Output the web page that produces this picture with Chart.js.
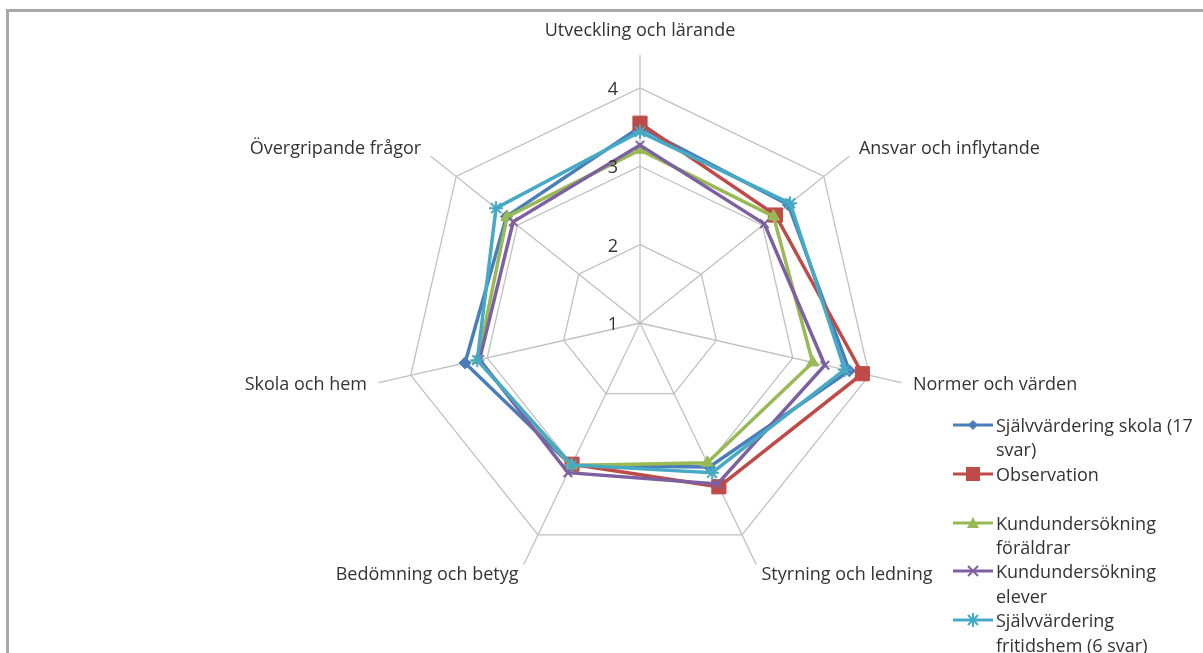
<!doctype html>
<html>
<head>
  <title>Radar</title>
  <script src="https://cdn.jsdelivr.net/npm/chart.js@4/dist/chart.umd.min.js"></script>
  <style>
  body { margin: 0; background: #fff; overflow: hidden; }
  #frame { position: absolute; left: 6px; top: 9px; width: 1300px; height: 700px;
    border-top: 3px solid #a9a9a9; border-left: 3px solid #a9a9a9; }
  #wrap { position: absolute; left: 0; top: 0; width: 1203px; height: 653px; }
  #legend { position: absolute; left: 953px; top: 413px; font: 18px "Open Sans", sans-serif;
    color: #333; line-height: 24.4px; white-space: nowrap; }
  .item { position: relative; padding-left: 43px; }
  .item svg { position: absolute; left: 0; top: 5px; }
  .gap { height: 24.4px; }
  </style>
</head>
<body>
  <div id="frame"></div>
  <div id="wrap">
    <canvas id="canvas" width="1203" height="653"></canvas>
  </div>
  <div id="legend"></div>
  <script>
  var categories = ['Utveckling och lärande', 'Ansvar och inflytande', 'Normer och värden',
    'Styrning och ledning', 'Bedömning och betyg', 'Skola och hem', 'Övergripande frågor'];
  var tickValues = [1, 2, 3, 4];

  var skolaValues     = [3.50, 3.42, 3.74, 3.04, 3.02, 3.29, 3.18];
  var observValues    = [3.55, 3.21, 3.91, 3.32, 3.00, null, null];
  var foraldrarValues = [3.21, 3.18, 3.26, 2.98, 3.02, 3.12, 3.17];
  var eleverValues    = [3.27, 3.03, 3.42, 3.28, 3.12, 3.10, 3.07];
  var fritidsValues   = [3.44, 3.45, 3.68, 3.12, 3.01, 3.13, 3.35];

  var series = [
    {label: 'Självvärdering skola (17\nsvar)', data: skolaValues, color: '#4A7EBB', style: 'rectRot', radius: 6},
    {label: 'Observation', data: observValues, color: '#BE4B48', style: 'rect', radius: 10},
    {label: 'Kundundersökning\nföräldrar', data: foraldrarValues, color: '#98B954', style: 'triangle', radius: 7},
    {label: 'Kundundersökning\nelever', data: eleverValues, color: '#7D60A0', style: 'crossRot', radius: 6},
    {label: 'Självvärdering\nfritidshem (6 svar)', data: fritidsValues, color: '#46AAC5', style: 'star', radius: 7}
  ];

  // labels the way Excel places them: values left of the top axis, categories past the spokes
  var excelLabels = {
    id: 'excelLabels',
    afterDraw: function(chart) {
      var scale = chart.scales.r;
      var ctx = chart.ctx;
      ctx.save();
      ctx.font = '18px "Open Sans", sans-serif';
      ctx.fillStyle = '#333';
      ctx.textAlign = 'center';
      ctx.textBaseline = 'middle';
      tickValues.forEach(function(v) {
        var d = scale.getDistanceFromCenterForValue(v);
        ctx.fillText(String(v), scale.xCenter - 27, scale.yCenter - d + 2);
      });
      categories.forEach(function(name, i) {
        var p = scale.getPointPosition(i, i === 0 ? 292 : 280);
        if (i === 0) ctx.textAlign = 'center';
        else ctx.textAlign = p.x > scale.xCenter ? 'left' : 'right';
        ctx.fillText(name, p.x, p.y);
      });
      ctx.restore();
    }
  };

  var ctx = document.getElementById('canvas').getContext('2d');
  var chart = new Chart(ctx, {
    type: 'radar',
    data: {
      labels: categories,
      datasets: series.map(function(s, i) {
        return {
          label: s.label,
          data: s.data,
          borderColor: s.color,
          backgroundColor: s.color,
          borderWidth: 3.5,
          fill: false,
          spanGaps: false,
          pointStyle: s.style,
          pointRadius: s.radius,
          pointBorderWidth: (s.style === 'crossRot' || s.style === 'star') ? 2 : 1,
          pointBackgroundColor: s.color,
          pointBorderColor: s.color,
          order: series.length - i
        };
      })
    },
    options: {
      responsive: false,
      animation: false,
      layout: {
        padding: {left: 372, right: 295, top: 55, bottom: 62}
      },
      plugins: {
        legend: {display: false},
        tooltip: {enabled: false}
      },
      scales: {
        r: {
          min: 1,
          max: 4.42,
          ticks: {display: false, stepSize: 1, includeBounds: false},
          pointLabels: {display: false},
          grid: {
            color: function(c) { return c.tick && c.tick.value > 4.01 ? 'rgba(0,0,0,0)' : '#c0c0c0'; },
            lineWidth: 1.3
          },
          angleLines: {color: '#c0c0c0', lineWidth: 1.3}
        }
      }
    },
    plugins: [excelLabels]
  });

  // legend, built as html so the wrapped labels read like the original
  function markerSvg(s) {
    var c = s.color, m = '';
    if (s.style === 'rectRot') m = '<polygon points="20,2 25,7 20,12 15,7" fill="' + c + '"/>';
    if (s.style === 'rect') m = '<rect x="13" y="0" width="14" height="14" fill="' + c + '"/>';
    if (s.style === 'triangle') m = '<polygon points="20,1 26,12 14,12" fill="' + c + '"/>';
    if (s.style === 'crossRot') m = '<path d="M15 2 L25 12 M25 2 L15 12" stroke="' + c + '" stroke-width="2"/>';
    if (s.style === 'star') m = '<path d="M15 2 L25 12 M25 2 L15 12 M20 0 L20 14" stroke="' + c + '" stroke-width="2"/>';
    return '<svg width="40" height="14"><line x1="0" y1="7" x2="40" y2="7" stroke="' + c +
      '" stroke-width="3"/>' + m + '</svg>';
  }
  var legendHtml = '';
  series.forEach(function(s, i) {
    legendHtml += '<div class="item">' + markerSvg(s) + s.label.replace('\n', '<br>') + '</div>';
    if (i === 1) legendHtml += '<div class="gap"></div>';
  });
  document.getElementById('legend').innerHTML = legendHtml;
  </script>
</body>
</html>
